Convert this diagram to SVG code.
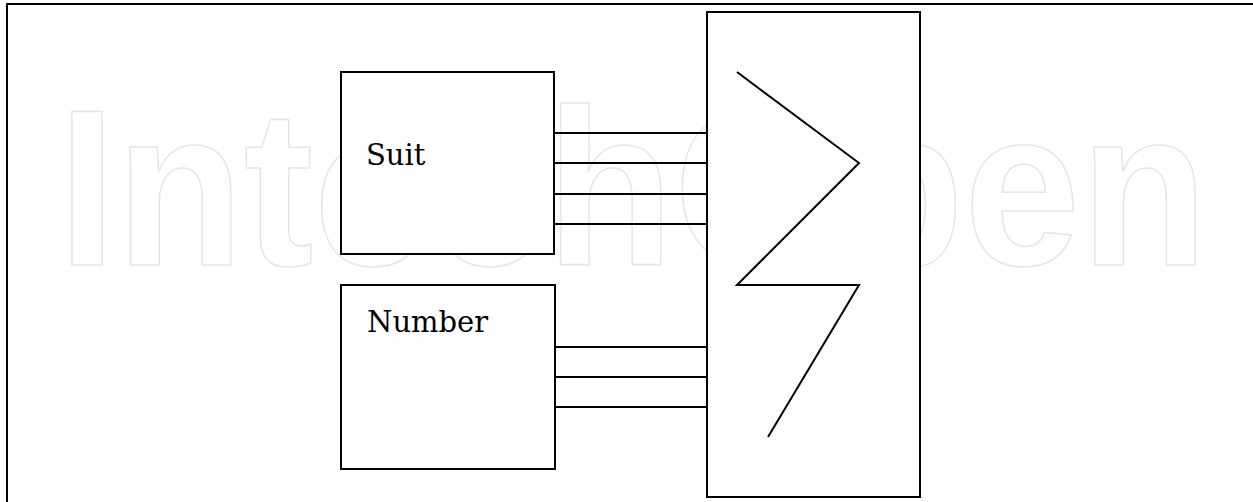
<svg xmlns="http://www.w3.org/2000/svg" width="1253" height="502" viewBox="0 0 1253 502">
<style>
.box{fill:#fff;stroke:#000;stroke-width:2}
.ln{stroke:#000;stroke-width:2;fill:none}
.lbl{font-family:"DejaVu Serif","Liberation Serif",serif;font-size:29px;fill:#000}
.wm{font-family:"Liberation Sans",Arial,sans-serif;font-weight:bold;font-size:222px;fill:none;stroke:#e6e6e6;stroke-width:1.6}
</style>
<rect x="0" y="0" width="1253" height="502" fill="#fff"/>
<text class="wm" x="58" y="265" textLength="1150" lengthAdjust="spacingAndGlyphs">IntechOpen</text>
<path class="ln" d="M1253,4 H7 V502"/>
<g id="suit">
<rect class="box" x="341" y="72" width="213" height="182"/>
<text class="lbl" x="366" y="165">Suit</text>
</g>
<g id="number">
<rect class="box" x="341" y="285" width="214" height="184"/>
<text class="lbl" x="367" y="332">Number</text>
</g>
<g id="decoder">
<rect class="box" x="707" y="12" width="213" height="485"/>
<polyline class="ln" points="737,72 859,163 737,285 859,285 768,437"/>
</g>
<g id="connectors">
<line class="ln" x1="554" y1="133" x2="707" y2="133"/>
<line class="ln" x1="554" y1="163" x2="707" y2="163"/>
<line class="ln" x1="554" y1="194" x2="707" y2="194"/>
<line class="ln" x1="554" y1="224" x2="707" y2="224"/>
<line class="ln" x1="555" y1="347" x2="707" y2="347"/>
<line class="ln" x1="555" y1="377" x2="707" y2="377"/>
<line class="ln" x1="555" y1="407" x2="707" y2="407"/>
</g>
</svg>
